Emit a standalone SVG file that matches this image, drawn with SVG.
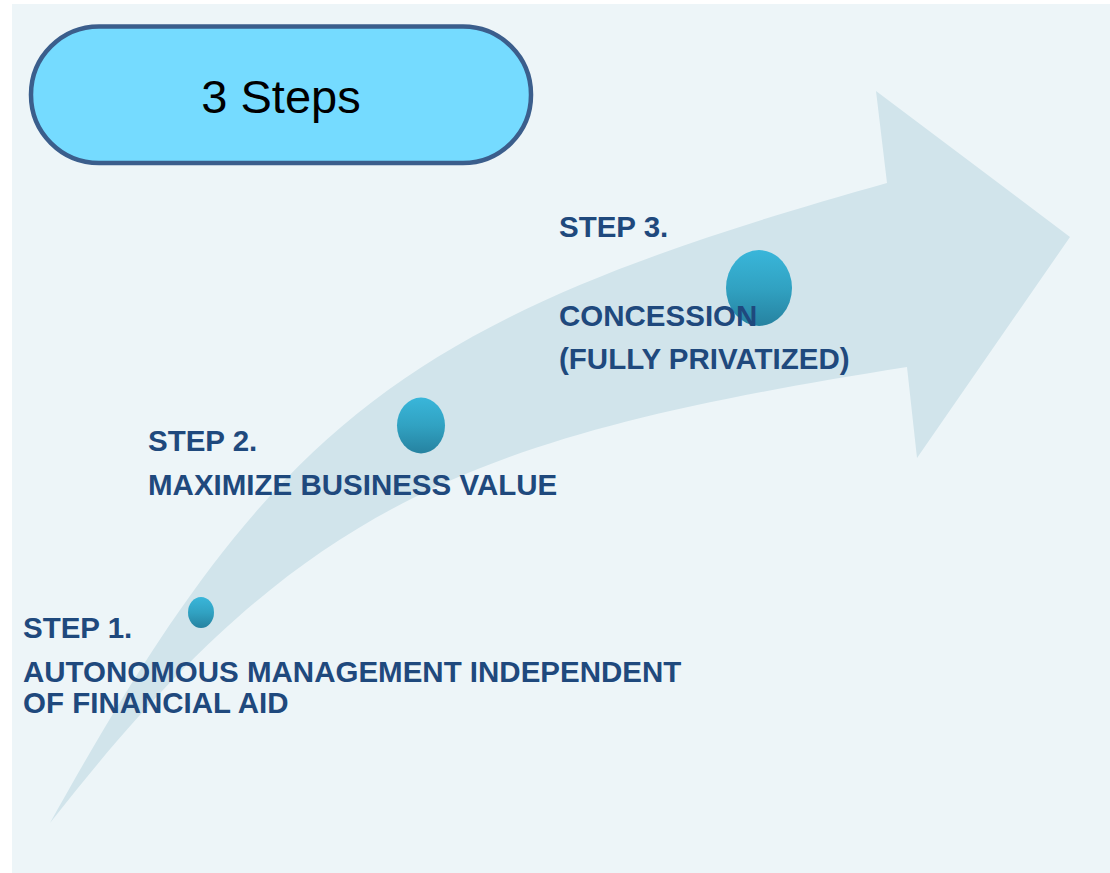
<svg xmlns="http://www.w3.org/2000/svg" width="1110" height="873" viewBox="0 0 1110 873">
  <defs>
    <linearGradient id="dot" x1="0" y1="0" x2="0" y2="1">
      <stop offset="0" stop-color="#39B6DA"/>
      <stop offset="0.5" stop-color="#31A2C2"/>
      <stop offset="1" stop-color="#2682A0"/>
    </linearGradient>
    <style>
      .step { font-family: "Liberation Sans", Arial, sans-serif; font-weight: bold; font-size: 29.5px; fill: #1F497D; }
      .title { font-family: "Liberation Sans", Arial, sans-serif; font-size: 47px; fill: #000000; }
      .dot { fill: url(#dot); }
    </style>
  </defs>
  <rect x="0" y="0" width="1110" height="873" fill="#FFFFFF"/>
  <rect id="panel" x="12" y="4" width="1098" height="869" fill="#EDF5F8"/>
  <g id="arrow">
    <path d="M50,823 C275,418 405.5,318 887,183 L876,91 L1070,237 L917,458 L907,367 C462.5,437 299,505 50,823 Z" fill="#D1E4EB"/>
  </g>
  <g id="title">
    <rect x="31" y="26.5" width="500" height="136.5" rx="68" ry="68" fill="#75DBFF" stroke="#3B5E8C" stroke-width="4.5"/>
    <text class="title" x="281" y="113" text-anchor="middle">3 Steps</text>
  </g>
  <g id="step1">
    <ellipse class="dot" cx="201" cy="612.5" rx="13" ry="15.5"/>
    <text class="step" x="23" y="638">STEP 1.</text>
    <text class="step" x="23" y="682">AUTONOMOUS MANAGEMENT INDEPENDENT</text>
    <text class="step" x="23" y="713">OF FINANCIAL AID</text>
  </g>
  <g id="step2">
    <ellipse class="dot" cx="421" cy="425.5" rx="24" ry="28"/>
    <text class="step" x="148" y="451">STEP 2.</text>
    <text class="step" x="148" y="495">MAXIMIZE BUSINESS VALUE</text>
  </g>
  <g id="step3">
    <ellipse class="dot" cx="759" cy="288" rx="33" ry="38"/>
    <text class="step" x="559" y="237">STEP 3.</text>
    <text class="step" x="559" y="326">CONCESSION</text>
    <text class="step" x="559" y="369">(FULLY PRIVATIZED)</text>
  </g>
</svg>
